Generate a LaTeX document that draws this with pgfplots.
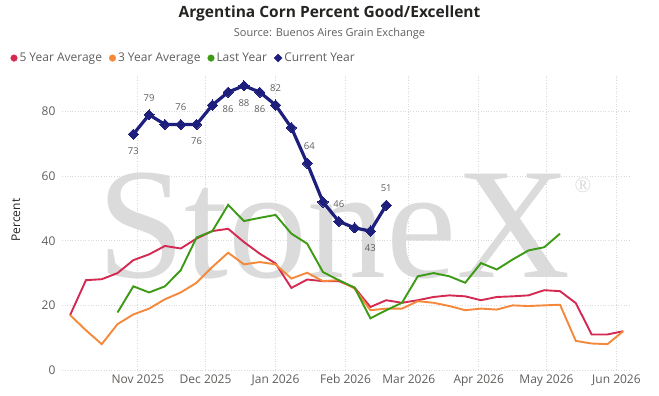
\documentclass[border=0pt]{standalone}
\usepackage{fontspec}
\setmainfont{Open Sans}
\newfontfamily\wmfont{Liberation Serif}
\usepackage{pgfplots}
\pgfplotsset{compat=1.18}
\definecolor{c5}{HTML}{D42A52}
\definecolor{c3}{HTML}{F4883B}
\definecolor{cl}{HTML}{3C9A14}
\definecolor{cc}{HTML}{1E1E7C}
\definecolor{tickc}{HTML}{605E5C}
\definecolor{titlec}{HTML}{252423}
\definecolor{gridc}{HTML}{D9D9D9}
\definecolor{wm}{HTML}{DBDBDB}
\begin{document}
\begin{tikzpicture}
\useasboundingbox (0pt,0pt) rectangle (659pt,396pt);
\node[text=wm, anchor=base, inner sep=0pt, font=\wmfont\fontsize{158}{158}\selectfont] at (334pt,118pt) {StoneX};
\node[text=wm, anchor=center, inner sep=0pt, font=\wmfont\fontsize{22}{22}\selectfont] at (583pt,211pt) {\textregistered};
\node[text=titlec, font=\bfseries\fontsize{15.5}{17}\selectfont] at (329.5pt,383pt) {Argentina Corn Percent Good/Excellent};
\node[text=tickc, font=\fontsize{11}{12}\selectfont] at (329.5pt,362pt) {Source: Buenos Aires Grain Exchange};
\begin{axis}[
  at={(62pt,26pt)}, anchor=south west,
  width=568pt, height=294pt, scale only axis,
  xmin=-33.6, xmax=218, ymin=0, ymax=91,
  axis line style={draw=none},
  major tick length=0pt,
  xtick={0,30,61,92,120,151,181,212},
  xticklabels={Nov 2025,Dec 2025,Jan 2026,Feb 2026,Mar 2026,Apr 2026,May 2026,Jun 2026},
  ytick={0,20,40,60,80},
  grid=major,
  grid style={gridc, dash pattern=on 1pt off 1.6pt, line width=0.8pt},
  tick label style={font=\fontsize{12}{13}\selectfont, text=tickc},
  /pgf/number format/assume math mode=true,
  xticklabel style={yshift=-1pt},
  yticklabel style={xshift=-3pt},
  ylabel={Percent},
  ylabel style={at={(axis description cs:-0.081,0.51)}, anchor=center, font=\fontsize{12}{13}\selectfont, text=titlec},
  legend style={at={(axis description cs:-0.091,1.061)}, anchor=west, draw=none, fill=none,
     font=\fontsize{12}{13}\selectfont, text=tickc, inner sep=0pt,
     /tikz/every even column/.append style={column sep=5pt}},
  legend columns=-1,
  legend cell align=left,
]
\addlegendimage{legend image code/.code={\fill[c5] (3pt,0pt) circle (3.3pt);}}
\addlegendentry{5 Year Average}
\addlegendimage{legend image code/.code={\fill[c3] (3pt,0pt) circle (3.3pt);}}
\addlegendentry{3 Year Average}
\addlegendimage{legend image code/.code={\fill[cl] (3pt,0pt) circle (3.3pt);}}
\addlegendentry{Last Year}
\addlegendimage{legend image code/.code={\fill[cc] (3pt,-4pt) -- (7pt,0pt) -- (3pt,4pt) -- (-1pt,0pt) -- cycle;}}
\addlegendentry{Current Year}

% 5 Year Average
\addplot[c5, line width=1.9pt, mark=none, forget plot] coordinates {
(-30,17) (-23,27.8) (-16,28.1) (-9,30) (-2,34) (5,35.8) (12,38.4) (19,37.6) (26,40.7) (33,43)
(40,43.7) (47,39.6) (54,36) (61,33) (68,25.4) (75,28) (82,27.5) (89,27.5) (96,25.5) (103,19.5)
(110,21.6) (117,20.8) (124,21.6) (131,22.6) (138,23.1) (145,22.8) (152,21.6) (159,22.6) (166,22.8) (173,23.1)
(180,24.7) (187,24.4) (194,20.7) (201,11) (208,11) (215,12)};
% 3 Year Average
\addplot[c3, line width=1.9pt, mark=none, forget plot] coordinates {
(-30,17) (-23,12.3) (-16,8) (-9,14.2) (-2,17.2) (5,19) (12,21.9) (19,24) (26,27) (33,31.9)
(40,36.3) (47,32.7) (54,33.4) (61,32.7) (68,28.3) (75,30.1) (82,27.5) (89,27.8) (96,25.2) (103,18.5)
(110,19) (117,19) (124,21.3) (131,20.8) (138,19.8) (145,18.5) (152,19) (159,18.7) (166,20) (173,19.8)
(180,20) (187,20.2) (194,9) (201,8.2) (208,8) (215,12)};
% Last Year
\addplot[cl, line width=1.9pt, mark=none, forget plot] coordinates {
(-9,17.8) (-2,25.9) (5,24) (12,25.9) (19,30.9) (26,41) (33,43) (40,51.1) (47,46.1) (54,47.1)
(61,48) (68,42.2) (75,39.1) (82,30.3) (89,27.8) (96,25.5) (103,16) (110,18.5) (117,20.8) (124,29)
(131,30) (138,29) (145,27) (152,33.1) (159,31.1) (166,34.2) (173,37) (180,38) (187,42.2)};
% Current Year
\addplot[cc, line width=3.2pt, mark=square*, mark size=3.6pt, mark options={rotate=45, line width=0pt}, forget plot] coordinates {
(-2,73) (5,79) (12,76) (19,76) (26,76) (33,82) (40,86) (47,88) (54,86) (61,82)
(68,75) (75,64) (82,52) (89,46) (96,44) (103,43) (110,51)};
% labels above
\addplot[draw=none, mark=none, forget plot, point meta=explicit symbolic, nodes near coords,
  every node near coord/.append style={anchor=center, yshift=17pt, font=\fontsize{9.5}{10}\selectfont, text=tickc}]
  coordinates {(5,79)[79] (19,76)[76] (61,82)[82] (76,64)[64] (89,46)[46] (110,51)[51]};
% labels below
\addplot[draw=none, mark=none, forget plot, point meta=explicit symbolic, nodes near coords,
  every node near coord/.append style={anchor=center, yshift=-17pt, font=\fontsize{9.5}{10}\selectfont, text=tickc}]
  coordinates {(-2,73)[73] (26,76)[76] (40,86)[86] (47,88)[88] (54,86)[86] (103,43)[43]};
\end{axis}
\end{tikzpicture}
\end{document}
